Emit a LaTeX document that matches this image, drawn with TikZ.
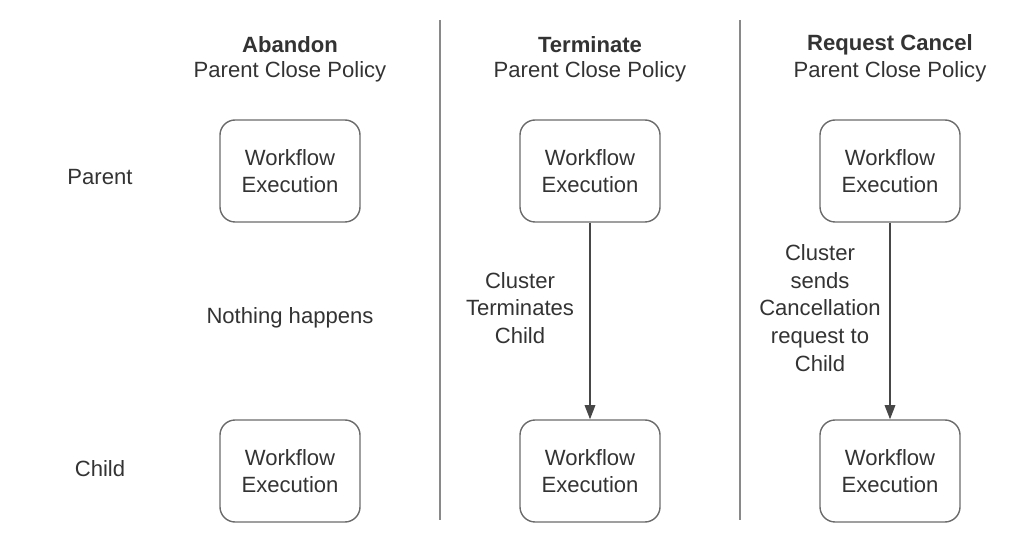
\documentclass[tikz,border=0pt]{standalone}
\usepackage{fontspec}
\setmainfont{Liberation Sans}
\usetikzlibrary{arrows.meta}
\definecolor{ink}{HTML}{333333}
\definecolor{rim}{HTML}{6B6B6B}
\tikzset{
  wfbox/.style={draw=rim, line width=1pt, rounded corners=0.38cm, minimum width=3.5cm, minimum height=2.55cm, align=center},
  divider/.style={draw=rim!80, line width=1pt},
  flow/.style={draw=ink!90, line width=1pt, -{Triangle[length=10pt,width=7.5pt]}}
}
\begin{document}
\begin{tikzpicture}[x=0.025cm, y=-0.025cm, every node/.style={font=\fontsize{15.7}{19.6}\selectfont, text=ink, inner sep=0pt}]
\useasboundingbox (0,0) rectangle (1019,543);
% column dividers
\draw[divider] (440,20) -- (440,520);
\draw[divider] (740,20) -- (740,520);
% headers
\foreach \x/\name/\pol in {290/ha/Abandon,590/ht/Terminate,890/hr/Request Cancel} {
  \node (\name) at (\x,45) {\textbf{\pol}};
  \node (\name s) at (\x,72) {Parent Close Policy};
}
% row labels
\node (lparent) at (100,177) {Parent};
\node (lchild) at (100,469) {Child};
% workflow boxes
\foreach \x/\c in {290/a,590/t,890/r} {
  \node[wfbox] (p\c) at (\x,171) {Workflow\\Execution};
  \node[wfbox] (c\c) at (\x,471) {Workflow\\Execution};
}
% abandon: nothing
\node (nothing) at (290,318) {Nothing happens};
% terminate
\draw[flow] (pt) -- (ct);
\node[align=center] (tlabel) at (520,308) {Cluster\\Terminates\\Child};
% request cancel
\draw[flow] (pr) -- (cr);
\node[align=center] (rlabel) at (820,308) {Cluster\\sends\\Cancellation\\request to\\Child};
\end{tikzpicture}
\end{document}
